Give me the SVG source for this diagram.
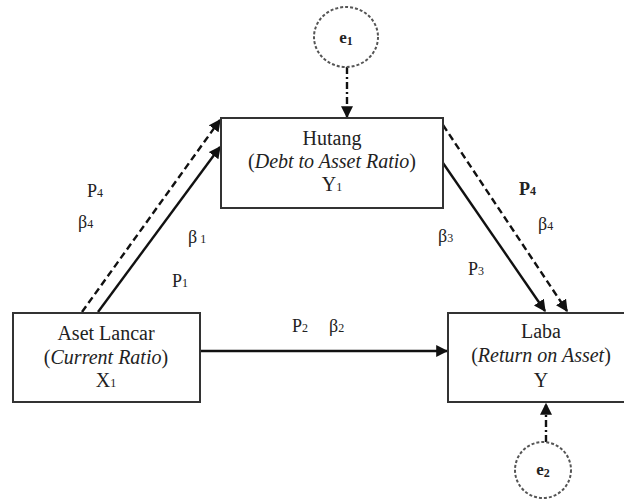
<svg xmlns="http://www.w3.org/2000/svg" width="624" height="500" viewBox="0 0 624 500">
<style>
.box{fill:#fff;stroke:#333;stroke-width:2}
text{font-family:'Liberation Serif','Times New Roman',serif;fill:#222}
.t{font-size:20px;text-anchor:middle}
.i{font-style:italic}
.lb{font-size:18px}
.sub{font-size:12px}
.c{fill:none;stroke:#555;stroke-width:2;stroke-dasharray:3 2}
.solid{stroke:#111;stroke-width:2.4;fill:none}
.dash{stroke:#111;stroke-width:2.4;fill:none;stroke-dasharray:7 4}
.dd{stroke:#111;stroke-width:2.4;fill:none;stroke-dasharray:7 3 2 3}
</style>
<defs>
<marker id="ah" viewBox="0 0 10 10" refX="9" refY="5" markerWidth="5" markerHeight="5" orient="auto" markerUnits="strokeWidth">
<path d="M0,0 L10,5 L0,10 z" fill="#111"/>
</marker>
</defs>
<g id="connectors">
<line class="dash" x1="82" y1="312" x2="220" y2="120" marker-end="url(#ah)"/>
<line class="solid" x1="98" y1="312" x2="220" y2="147" marker-end="url(#ah)"/>
<line class="solid" x1="443" y1="163" x2="545" y2="311" marker-end="url(#ah)"/>
<line class="dash" x1="443" y1="125" x2="567" y2="311" marker-end="url(#ah)"/>
<line class="solid" x1="200" y1="351" x2="447" y2="351" marker-end="url(#ah)"/>
<line class="dd" x1="347" y1="67" x2="347" y2="117" marker-end="url(#ah)"/>
<line class="dd" x1="546" y1="442" x2="546" y2="404" marker-end="url(#ah)"/>
</g>
<g id="e1">
<ellipse class="c" cx="346" cy="37" rx="32" ry="30"/>
<text x="346" y="43" font-size="17" font-weight="bold" text-anchor="middle">e<tspan class="sub" dy="2">1</tspan></text>
</g>
<g id="e2">
<ellipse class="c" cx="543" cy="470" rx="28" ry="28"/>
<text x="543" y="475" font-size="17" font-weight="bold" text-anchor="middle">e<tspan class="sub" dy="2">2</tspan></text>
</g>
<g id="hutang">
<rect class="box" x="221" y="118" width="222" height="90"/>
<text class="t" x="332" y="145">Hutang</text>
<text class="t" x="332" y="168">(<tspan class="i">Debt to Asset Ratio</tspan>)</text>
<text class="t" x="332" y="191">Y<tspan class="sub">1</tspan></text>
</g>
<g id="aset">
<rect class="box" x="13" y="313" width="187" height="89"/>
<text class="t" x="106" y="340">Aset Lancar</text>
<text class="t" x="106" y="364">(<tspan class="i">Current Ratio</tspan>)</text>
<text class="t" x="106" y="387">X<tspan class="sub">1</tspan></text>
</g>
<g id="laba">
<rect class="box" x="448" y="313" width="190" height="89"/>
<text class="t" x="541" y="338">Laba</text>
<text class="t" x="541" y="362">(<tspan class="i">Return on Asset</tspan>)</text>
<text class="t" x="541" y="387">Y</text>
</g>
<g id="labels">
<text class="lb" x="87" y="197">P<tspan class="sub">4</tspan></text>
<text class="lb" x="78" y="228">β<tspan class="sub">4</tspan></text>
<text class="lb" x="188" y="243">β<tspan class="sub"> 1</tspan></text>
<text class="lb" x="172" y="287">P<tspan class="sub">1</tspan></text>
<text class="lb" x="292" y="332">P<tspan class="sub">2</tspan></text>
<text class="lb" x="329" y="332">β<tspan class="sub">2</tspan></text>
<text class="lb" x="438" y="242">β<tspan class="sub">3</tspan></text>
<text class="lb" x="468" y="275">P<tspan class="sub">3</tspan></text>
<text class="lb" x="519" y="195" font-weight="bold">P<tspan class="sub">4</tspan></text>
<text class="lb" x="538" y="230">β<tspan class="sub">4</tspan></text>
</g>
</svg>
